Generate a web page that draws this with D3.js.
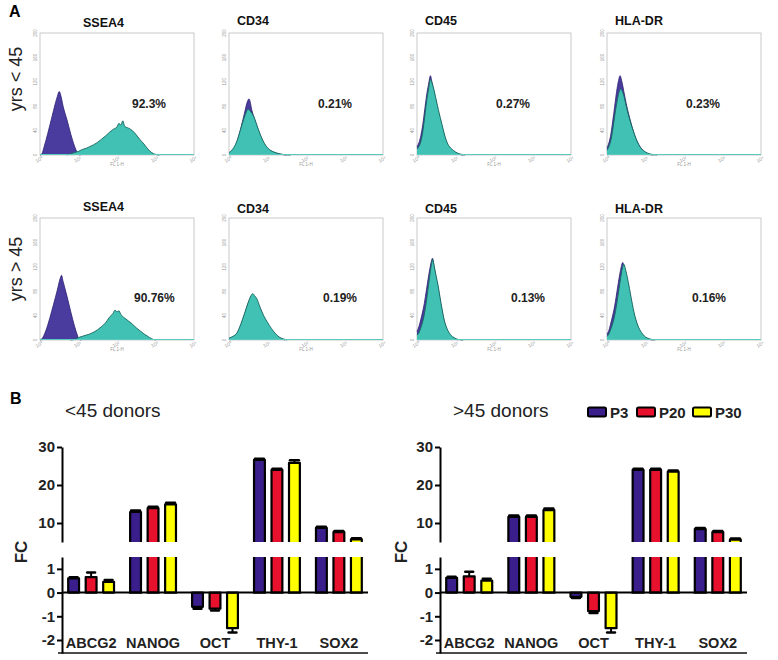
<!DOCTYPE html>
<html><head><meta charset="utf-8">
<script src="https://cdn.jsdelivr.net/npm/d3@7"></script>
<style>body{margin:0;background:#fff}svg{display:block}</style>
</head><body><svg id="c" width="778" height="660"></svg>
<script>
// ---------------- DATA ----------------
const markers = ["SSEA4", "CD34", "CD45", "HLA-DR"];
const ageGroups = ["yrs < 45", "yrs > 45"];
const percentYoung = ["92.3%", "0.21%", "0.27%", "0.23%"];
const percentOld = ["90.76%", "0.19%", "0.13%", "0.16%"];
const histTicksX = [0, 1, 2, 3, 4];
const histTicksY = [0, 40, 80, 120, 160, 200];
const supers = ["\u2070", "\u00b9", "\u00b2", "\u00b3", "\u2074"];

// histograms: [log10 FL1-H, events]  (ctrl = isotype, stain = marker)
const ctrlYoungSSEA4 = [[0,0],[0.05,2],[0.1,12],[0.2,35],[0.3,60],[0.4,85],[0.45,96],[0.5,104],[0.55,95],[0.6,80],[0.7,58],[0.8,34],[0.9,14],[0.95,6],[1.0,1],[1.05,0]];
const stainYoungSSEA4 = [[0.7,0],[0.8,2],[0.9,4],[1.0,6],[1.1,9],[1.2,11],[1.3,14],[1.4,17],[1.5,21],[1.6,26],[1.7,31],[1.8,37],[1.9,42],[2.0,46],[2.05,52],[2.1,49],[2.15,56],[2.2,47],[2.3,44],[2.4,40],[2.5,33],[2.6,25],[2.7,18],[2.8,10],[2.9,4],[3.0,1],[3.1,0]];
const ctrlYoungCD34 = [[0,3],[0.1,8],[0.2,20],[0.3,42],[0.4,68],[0.48,88],[0.52,92],[0.6,72],[0.7,52],[0.8,34],[0.9,20],[1.0,11],[1.15,5],[1.35,1],[1.5,0]];
const stainYoungCD34 = [[0,4],[0.1,10],[0.2,22],[0.3,42],[0.4,62],[0.5,75],[0.55,72],[0.65,62],[0.75,44],[0.85,28],[0.95,16],[1.05,9],[1.2,4],[1.4,1],[1.6,0]];
const ctrlYoungCD45 = [[0,14],[0.05,20],[0.1,32],[0.15,50],[0.2,74],[0.25,98],[0.3,116],[0.35,130],[0.38,122],[0.42,110],[0.5,86],[0.56,68],[0.65,46],[0.73,28],[0.8,16],[0.9,8],[1.0,4],[1.1,1],[1.2,0]];
const stainYoungCD45 = [[0,10],[0.05,14],[0.1,22],[0.15,38],[0.2,62],[0.25,88],[0.3,108],[0.35,124],[0.38,120],[0.42,112],[0.5,90],[0.56,73],[0.65,50],[0.73,30],[0.8,18],[0.9,10],[1.0,5],[1.1,2],[1.25,0]];
const ctrlYoungHLADR = [[0,12],[0.05,20],[0.1,34],[0.15,56],[0.2,80],[0.25,104],[0.3,122],[0.34,130],[0.38,122],[0.45,100],[0.5,84],[0.6,58],[0.7,36],[0.8,20],[0.9,10],[1.0,4],[1.1,1],[1.2,0]];
const stainYoungHLADR = [[0,8],[0.05,14],[0.1,24],[0.15,42],[0.2,64],[0.25,84],[0.3,100],[0.35,108],[0.4,104],[0.45,94],[0.5,80],[0.6,56],[0.7,36],[0.8,20],[0.9,10],[1.0,5],[1.1,2],[1.3,0]];
const ctrlOldSSEA4 = [[0,0],[0.05,2],[0.15,15],[0.25,35],[0.35,58],[0.45,82],[0.52,100],[0.56,106],[0.6,96],[0.7,72],[0.8,46],[0.9,22],[0.97,8],[1.02,1],[1.07,0]];
const stainOldSSEA4 = [[0.8,0],[0.9,1],[1.0,4],[1.1,6],[1.2,8],[1.3,10],[1.4,13],[1.5,17],[1.6,22],[1.7,28],[1.8,37],[1.9,44],[1.95,49],[2.0,46],[2.05,48],[2.1,42],[2.2,36],[2.3,31],[2.4,26],[2.5,20],[2.6,15],[2.7,10],[2.8,6],[2.9,2],[3.0,0]];
const ctrlOldCD34 = [[0,2],[0.1,5],[0.2,10],[0.3,23],[0.4,41],[0.5,60],[0.6,72],[0.7,65],[0.8,52],[0.9,37],[1.0,26],[1.1,16],[1.2,9],[1.3,4],[1.45,0]];
const stainOldCD34 = [[0,3],[0.1,6],[0.2,11],[0.3,25],[0.4,43],[0.5,62],[0.55,70],[0.62,76],[0.66,73],[0.72,68],[0.8,55],[0.9,40],[1.0,29],[1.1,19],[1.2,11],[1.3,5],[1.4,2],[1.5,0]];
const ctrlOldCD45 = [[0,14],[0.05,22],[0.1,34],[0.19,60],[0.25,84],[0.32,112],[0.37,128],[0.4,134],[0.45,118],[0.5,100],[0.54,88],[0.62,58],[0.71,30],[0.8,14],[0.88,6],[0.96,3],[1.06,0]];
const stainOldCD45 = [[0,8],[0.05,12],[0.1,20],[0.19,42],[0.25,66],[0.32,100],[0.37,122],[0.41,132],[0.45,120],[0.5,104],[0.54,92],[0.62,62],[0.71,32],[0.8,16],[0.88,8],[0.96,4],[1.06,1],[1.2,0]];
const ctrlOldHLADR = [[0,10],[0.05,16],[0.1,28],[0.2,56],[0.28,88],[0.35,114],[0.41,127],[0.45,118],[0.5,104],[0.55,90],[0.62,66],[0.7,42],[0.8,22],[0.9,10],[1.0,4],[1.1,1],[1.2,0]];
const stainOldHLADR = [[0,6],[0.05,10],[0.1,18],[0.2,40],[0.28,70],[0.35,100],[0.4,118],[0.44,124],[0.48,116],[0.55,96],[0.62,72],[0.7,46],[0.8,24],[0.9,12],[1.0,5],[1.1,2],[1.25,0]];

// bar charts
const genes = ["ABCG2", "NANOG", "OCT", "THY-1", "SOX2"];
const passages = ["P3", "P20", "P30"];
const young_P3  = [0.6, 12.9, -0.6, 26.6, 8.7];
const young_P20 = [0.65, 13.9, -0.68, 24.0, 7.6];
const young_P30 = [0.45, 14.9, -1.5, 25.8, 5.7];
const youngErr_P3  = [0.05, 0.4, 0.08, 0.3, 0.3];
const youngErr_P20 = [0.2, 0.4, 0.08, 0.3, 0.3];
const youngErr_P30 = [0.08, 0.4, 0.18, 0.7, 0.3];
const old_P3  = [0.62, 11.6, -0.18, 24.0, 8.4];
const old_P20 = [0.68, 11.6, -0.78, 24.0, 7.6];
const old_P30 = [0.5, 13.4, -1.5, 23.5, 5.6];
const oldErr_P3  = [0.05, 0.4, 0.05, 0.3, 0.3];
const oldErr_P20 = [0.2, 0.4, 0.08, 0.3, 0.3];
const oldErr_P30 = [0.08, 0.4, 0.18, 0.3, 0.3];
const upperTicks = [10, 20, 30];
const lowerTicks = [-2, -1, 0, 1];

// ---------------- STYLE / LAYOUT ----------------
const svg = d3.select("#c");
const FONT = "Arial, 'Liberation Sans', sans-serif";
const colPurple = "#4a3b9f", colTeal = "#40c1b4";
const barColors = {P3: "#3a1e8c", P20: "#e8112d", P30: "#ffff00"};

const histCols = [40, 229, 417, 607];
const histRows = [33, 218];
const histW = 154, histH = 122;
const titleBase = [[27, 25, 25, 25], [211, 213, 213, 213]];
const pctX = [[92, 89, 79, 79], [94, 94, 94, 85]];
const pctBase = [108, 302];

const histData = [
  [[ctrlYoungSSEA4, stainYoungSSEA4], [ctrlYoungCD34, stainYoungCD34], [ctrlYoungCD45, stainYoungCD45], [ctrlYoungHLADR, stainYoungHLADR]],
  [[ctrlOldSSEA4, stainOldSSEA4], [ctrlOldCD34, stainOldCD34], [ctrlOldCD45, stainOldCD45], [ctrlOldHLADR, stainOldHLADR]]
];
const pcts = [percentYoung, percentOld];

// panel letters
svg.append("text").attr("x", 9).attr("y", 17).attr("font-family", FONT).attr("font-weight", "bold").attr("font-size", 16).text("A");
svg.append("text").attr("x", 10).attr("y", 404).attr("font-family", FONT).attr("font-weight", "bold").attr("font-size", 16).text("B");

// row labels
[[16, 79], [16, 269]].forEach(([cx, cy], r) => {
  svg.append("text").attr("transform", `translate(${cx + 6},${cy}) rotate(-90)`)
    .attr("text-anchor", "middle").attr("font-family", FONT).attr("font-size", 18).attr("fill", "#222")
    .text(ageGroups[r]);
});

function drawHist(r, c) {
  const x0 = histCols[c], y0 = histRows[r];
  const g = svg.append("g");
  const x = d3.scaleLinear().domain([0, 4]).range([x0, x0 + histW]);
  const y = d3.scaleLinear().domain([0, 200]).range([y0 + histH, y0]);
  g.append("rect").attr("x", x0).attr("y", y0).attr("width", histW).attr("height", histH)
    .attr("fill", "none").attr("stroke", "#c9c9c9").attr("stroke-width", 1);
  const area = d3.area().x(d => x(d[0])).y0(y(0)).y1(d => y(d[1])).curve(d3.curveMonotoneX);
  const line = d3.line().x(d => x(d[0])).y(d => y(d[1])).curve(d3.curveMonotoneX);
  const [ctrl, stain] = histData[r][c];
  g.append("path").attr("d", area(ctrl)).attr("fill", colPurple);
  g.append("path").attr("d", line(ctrl)).attr("fill", "none").attr("stroke", "#2a1f70").attr("stroke-width", 0.8);
  g.append("path").attr("d", area(stain)).attr("fill", colTeal);
  g.append("path").attr("d", line(stain)).attr("fill", "none").attr("stroke", "#17655d").attr("stroke-width", 0.9);
  g.append("line").attr("x1", x(0)).attr("x2", x(4)).attr("y1", y(0) - 0.5).attr("y2", y(0) - 0.5)
    .attr("stroke", "#5cc9bf").attr("stroke-width", 1);
  // tiny tick labels
  histTicksY.forEach(v => {
    g.append("text").attr("transform", `translate(${x0 - 3},${y(v)}) rotate(-90)`)
      .attr("text-anchor", "middle").attr("font-family", FONT).attr("font-size", 4.5).attr("fill", "#999").text(v);
  });
  histTicksX.forEach(v => {
    g.append("text").attr("transform", `translate(${x(v)},${y0 + histH + 6}) rotate(-30)`)
      .attr("text-anchor", "middle").attr("font-family", FONT).attr("font-size", 5).attr("fill", "#999")
      .text("10" + supers[v]);
  });
  g.append("text").attr("x", x(2)).attr("y", y0 + histH + 11).attr("text-anchor", "middle")
    .attr("font-family", FONT).attr("font-size", 4.5).attr("fill", "#999").text("FL 1-H");
  // title & percentage
  const tx = c === 0 ? x0 + 43 : x0 + 8;
  g.append("text").attr("x", tx).attr("y", titleBase[r][c]).attr("font-family", FONT)
    .attr("font-weight", "bold").attr("font-size", 12.5).attr("fill", "#111").text(markers[c]);
  g.append("text").attr("x", x0 + pctX[r][c]).attr("y", pctBase[r]).attr("font-family", FONT)
    .attr("font-weight", "bold").attr("font-size", 12).attr("fill", "#222").text(pcts[r][c]);
}
for (let r = 0; r < 2; r++) for (let c = 0; c < 4; c++) drawHist(r, c);

// ---------------- BAR CHARTS ----------------
function drawBars(axisX, endX, series, errs, title, titleX, fcX, withLegend) {
  const g = svg.append("g");
  const x0 = d3.scaleBand().domain(genes).range([axisX, endX]).paddingInner(0.26).paddingOuter(0.1);
  const x1 = d3.scaleBand().domain(passages).range([0, x0.bandwidth()]).paddingInner(0.38);
  const yU = d3.scaleLinear().domain([5, 30]).range([542, 447]);
  const yL = d3.scaleLinear().domain([-2, 1.5]).range([640, 557]);
  const bottomY = yL(-2.55);
  const bw = x1.bandwidth();
  const strokeW = 2.2;

  genes.forEach((gene, i) => {
    passages.forEach((p, j) => {
      const v = series[j][i], e = errs[j][i];
      const bx = x0(gene) + x1(p);
      const fill = barColors[p];
      if (v > 1.5) {
        g.append("rect").attr("x", bx).attr("y", yL(1.5)).attr("width", bw).attr("height", yL(0) - yL(1.5)).attr("fill", fill);
        g.append("path").attr("d", `M${bx},${yL(1.5)}V${yL(0)}H${bx + bw}V${yL(1.5)}`)
          .attr("fill", "none").attr("stroke", "#000").attr("stroke-width", strokeW);
        g.append("rect").attr("x", bx).attr("y", yU(v)).attr("width", bw).attr("height", yU(5) - yU(v)).attr("fill", fill);
        g.append("path").attr("d", `M${bx},${yU(5)}V${yU(v)}H${bx + bw}V${yU(5)}`)
          .attr("fill", "none").attr("stroke", "#000").attr("stroke-width", strokeW).attr("stroke-linejoin", "round");
        const ye = yU(v + e);
        g.append("line").attr("x1", bx + bw / 2).attr("x2", bx + bw / 2).attr("y1", yU(v)).attr("y2", ye).attr("stroke", "#000").attr("stroke-width", 2);
        g.append("line").attr("x1", bx + 1).attr("x2", bx + bw - 1).attr("y1", ye).attr("y2", ye).attr("stroke", "#000").attr("stroke-width", 2.5).attr("stroke-linecap", "round");
      } else {
        const top = Math.min(yL(v), yL(0)), h = Math.abs(yL(v) - yL(0));
        g.append("rect").attr("x", bx).attr("y", top).attr("width", bw).attr("height", h)
          .attr("fill", fill).attr("stroke", "#000").attr("stroke-width", strokeW).attr("stroke-linejoin", "round");
        const ye = v >= 0 ? yL(v + e) : yL(v - e);
        g.append("line").attr("x1", bx + bw / 2).attr("x2", bx + bw / 2).attr("y1", yL(v)).attr("y2", ye).attr("stroke", "#000").attr("stroke-width", 2);
        g.append("line").attr("x1", bx + 1.5).attr("x2", bx + bw - 1.5).attr("y1", ye).attr("y2", ye).attr("stroke", "#000").attr("stroke-width", 2.5).attr("stroke-linecap", "round");
      }
    });
  });
  g.append("line").attr("x1", axisX).attr("x2", endX).attr("y1", yL(0)).attr("y2", yL(0)).attr("stroke", "#000").attr("stroke-width", 2);
  g.append("line").attr("x1", axisX - 4).attr("x2", endX).attr("y1", bottomY).attr("y2", bottomY).attr("stroke", "#111").attr("stroke-width", 1.5);

  const styleAxis = sel => {
    sel.select(".domain").attr("stroke", "#000").attr("stroke-width", 2);
    sel.selectAll(".tick line").attr("stroke", "#000").attr("stroke-width", 2);
    sel.selectAll(".tick text").attr("font-family", FONT).attr("font-weight", "bold").attr("font-size", 15).attr("fill", "#222");
  };
  const fmt = d => String(d);
  g.append("g").attr("transform", `translate(${axisX},0)`)
    .call(d3.axisLeft(yU).tickValues(upperTicks).tickSize(5).tickSizeOuter(0).tickPadding(2).tickFormat(fmt))
    .call(styleAxis);
  const yAxisL = yL.copy().domain([-2.55, 1.5]).range([bottomY, yL(1.5)]);
  g.append("g").attr("transform", `translate(${axisX},0)`)
    .call(d3.axisLeft(yAxisL).tickValues(lowerTicks).tickSize(5).tickSizeOuter(0).tickPadding(2).tickFormat(fmt))
    .call(styleAxis);

  genes.forEach(gene => {
    g.append("text").attr("x", x0(gene) + x0.bandwidth() / 2).attr("y", 648).attr("text-anchor", "middle")
      .attr("font-family", FONT).attr("font-weight", "bold").attr("font-size", 14.5).attr("fill", "#222").text(gene);
  });
  g.append("text").attr("transform", `translate(${fcX},552) rotate(-90)`).attr("text-anchor", "middle")
    .attr("font-family", FONT).attr("font-weight", "bold").attr("font-size", 17).attr("fill", "#222").text("FC");
  g.append("text").attr("x", titleX).attr("y", 417).attr("font-family", FONT).attr("font-size", 19).attr("fill", "#222").text(title);

  if (withLegend) {
    const lx = [588, 637, 693];
    passages.forEach((p, j) => {
      g.append("rect").attr("x", lx[j]).attr("y", 407.5).attr("width", 18).attr("height", 9).attr("rx", 1.5)
        .attr("fill", barColors[p]).attr("stroke", "#000").attr("stroke-width", 2);
      g.append("text").attr("x", lx[j] + 22).attr("y", 418).attr("font-family", FONT).attr("font-weight", "bold")
        .attr("font-size", 15).attr("fill", "#222").text(p);
    });
  }
}

drawBars(62, 368, [young_P3, young_P20, young_P30], [youngErr_P3, youngErr_P20, youngErr_P30], "<45 donors", 65, 27, false);
drawBars(440, 747, [old_P3, old_P20, old_P30], [oldErr_P3, oldErr_P20, oldErr_P30], ">45 donors", 453, 407, true);
</script></body></html>
